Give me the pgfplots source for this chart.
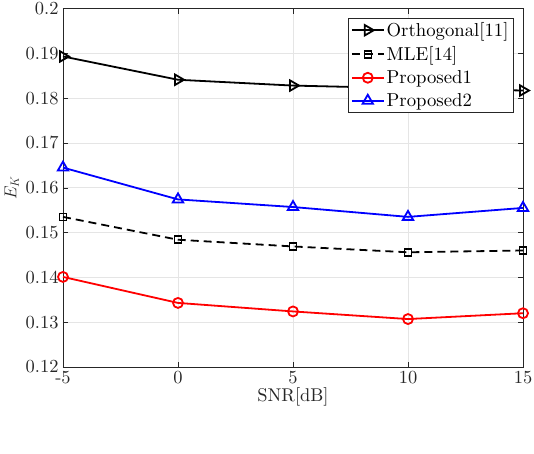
\documentclass[border=0pt]{standalone}
\usepackage{fontspec}
\setmainfont{lmroman10-regular}[Extension=.otf, ItalicFont=lmroman10-italic, BoldFont=lmroman10-bold]
\usepackage{pgfplots}
\pgfplotsset{compat=1.18}
\DeclareMathSizes{19}{19}{14}{10}
\definecolor{axgray}{rgb}{0.15,0.15,0.15}
\definecolor{gridgray}{rgb}{0.9,0.9,0.9}
\begin{document}
\begin{tikzpicture}
\useasboundingbox (-63bp,-87bp) rectangle (471bp,367bp);
\begin{axis}[
  at={(0,0)}, anchor=south west,
  scale only axis, width=460bp, height=358.5bp,
  xmin=-5, xmax=15, ymin=0.12, ymax=0.2,
  xtick={-5,0,5,10,15},
  xticklabels={-5,0,5,10,15},
  ytick={0.12,0.13,0.14,0.15,0.16,0.17,0.18,0.19,0.2},
  yticklabels={0.12,0.13,0.14,0.15,0.16,0.17,0.18,0.19,0.2},
  tick align=inside, tickpos=both,
  major tick length=5bp,
  every tick/.style={axgray, line width=0.5bp},
  axis line style={axgray, line width=0.6bp},
  grid=major,
  major grid style={gridgray, line width=0.6bp},
  tick label style={font=\fontsize{18.5}{22}\selectfont, text=axgray},
  xticklabel style={yshift=-1bp},
  yticklabel style={xshift=-1bp},
  label style={font=\fontsize{18.5}{22}\selectfont, text=axgray},
  xlabel={SNR[dB]},
  ylabel={$E_K$},
  xlabel style={yshift=3bp},
  ylabel style={yshift=0bp},
  legend style={at={(0.98,0.973)}, anchor=north east, draw=axgray, line width=0.6bp,
    font=\fontsize{18.8}{22}\selectfont, inner xsep=3bp, inner ysep=2bp, row sep=4.5bp,
    legend cell align=left},
  legend image code/.code={\draw[mark repeat=2,mark phase=2,#1] plot coordinates {(0bp,0bp) (16bp,0bp) (32bp,0bp)};},
]
\addplot[black, line width=1.8bp, mark=triangle, mark size=6bp, mark options={solid, rotate=-90, line width=1.8bp}]
  coordinates {(-5,0.1893) (0,0.1841) (5,0.1828) (10,0.1822) (15,0.1817)};
\addlegendentry{Orthogonal[11]}
\addplot[black, line width=1.8bp, dash pattern=on 8bp off 5bp, mark=square, mark size=3.5bp, mark options={solid, line width=1.5bp}]
  coordinates {(-5,0.1535) (0,0.1484) (5,0.1469) (10,0.1456) (15,0.1460)};
\addlegendentry{MLE[14]}
\addplot[red, line width=1.8bp, mark=o, mark size=5bp, mark options={solid, line width=1.8bp}]
  coordinates {(-5,0.1401) (0,0.1343) (5,0.1324) (10,0.1307) (15,0.1320)};
\addlegendentry{Proposed1}
\addplot[blue, line width=1.8bp, mark=triangle, mark size=6bp, mark options={solid, line width=1.8bp}]
  coordinates {(-5,0.1645) (0,0.1574) (5,0.1557) (10,0.1535) (15,0.1555)};
\addlegendentry{Proposed2}
\end{axis}
\end{tikzpicture}
\end{document}
